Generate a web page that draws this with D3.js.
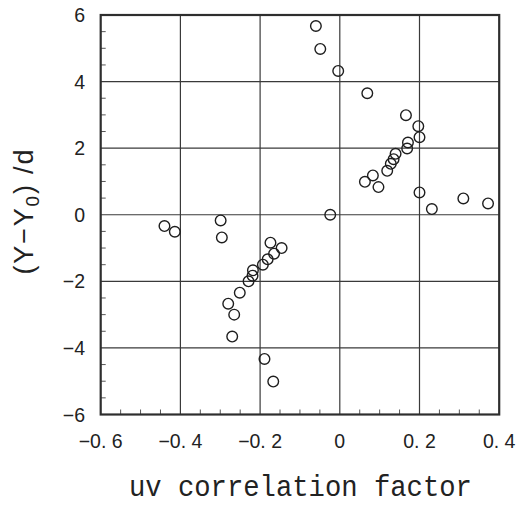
<!DOCTYPE html>
<html>
<head>
<meta charset="utf-8">
<script src="https://cdn.jsdelivr.net/npm/d3@7"></script>
<style>
  html, body { margin: 0; padding: 0; background: #fff; }
  svg { display: block; }
</style>
</head>
<body>
<div id="chart"></div>
<script>
// uv correlation factor versus normalised offset (Y - Y0)/d
const uvFactor = [
  -0.060, -0.049, -0.004, 0.069, 0.166, 0.197, 0.200, 0.171, 0.169, 0.140,
  0.135, 0.128, 0.119, 0.083, 0.063, 0.097, 0.200, 0.231, 0.310, 0.372,
  -0.024,
  -0.440, -0.414, -0.299, -0.296, -0.174, -0.146, -0.165, -0.181, -0.193,
  -0.218, -0.219, -0.229, -0.251, -0.280, -0.265, -0.270, -0.189, -0.167
];
const offset = [
  5.67, 4.98, 4.32, 3.65, 2.99, 2.66, 2.33, 2.17, 1.99, 1.83,
  1.67, 1.53, 1.32, 1.18, 0.99, 0.83, 0.67, 0.17, 0.49, 0.34,
  0.00,
  -0.34, -0.51, -0.17, -0.68, -0.84, -1.00, -1.17, -1.34, -1.50,
  -1.67, -1.83, -2.00, -2.34, -2.67, -3.00, -3.66, -4.33, -5.01
];

const xTicks = [-0.6, -0.4, -0.2, 0, 0.2, 0.4];
const xTickLabels = ["\u22120. 6", "\u22120. 4", "\u22120. 2", "0", "0. 2", "0. 4"];
const yTicks = [-6, -4, -2, 0, 2, 4, 6];
const yTickLabels = ["\u22126", "\u22124", "\u22122", "0", "2", "4", "6"];
const xMinor = [-0.55, -0.5, -0.45, -0.35, -0.3, -0.25, -0.15, -0.1, -0.05,
                0.05, 0.1, 0.15, 0.25, 0.3, 0.35];
const yMinor = [-5.5, -5, -4.5, -3.5, -3, -2.5, -1.5, -1, -0.5,
                0.5, 1, 1.5, 2.5, 3, 3.5, 4.5, 5, 5.5];

const W = 517, H = 506;
const plot = { left: 100.7, right: 499.2, top: 15, bottom: 414.5 };

const x = d3.scaleLinear().domain([-0.6, 0.4]).range([plot.left, plot.right]);
const y = d3.scaleLinear().domain([-6, 6]).range([plot.bottom, plot.top]);

const svg = d3.select("#chart").append("svg")
  .attr("width", W).attr("height", H);

const tickFont = "'Liberation Sans', Arial, sans-serif";

// grid lines
const grid = svg.append("g").attr("stroke", "#3a3a3a").attr("stroke-width", 1.2);
grid.selectAll(".gx").data(xTicks.slice(1, -1)).join("line")
  .attr("x1", d => x(d)).attr("x2", d => x(d))
  .attr("y1", plot.top).attr("y2", plot.bottom);
grid.selectAll(".gy").data(yTicks.slice(1, -1)).join("line")
  .attr("y1", d => y(d)).attr("y2", d => y(d))
  .attr("x1", plot.left).attr("x2", plot.right);

// minor ticks on the bottom and left edges, pointing inward
const minor = svg.append("g").attr("stroke", "#555").attr("stroke-width", 1);
minor.selectAll(".mx").data(xMinor).join("line")
  .attr("x1", d => x(d)).attr("x2", d => x(d))
  .attr("y1", plot.bottom).attr("y2", plot.bottom - 5);
minor.selectAll(".my").data(yMinor).join("line")
  .attr("y1", d => y(d)).attr("y2", d => y(d))
  .attr("x1", plot.left).attr("x2", plot.left + 5);

// frame
svg.append("rect")
  .attr("x", plot.left).attr("y", plot.top)
  .attr("width", plot.right - plot.left).attr("height", plot.bottom - plot.top)
  .attr("fill", "none").attr("stroke", "#2e2e2e").attr("stroke-width", 2.2);

// tick labels
svg.append("g").selectAll("text").data(xTicks).join("text")
  .attr("x", d => x(d)).attr("y", 448)
  .attr("text-anchor", "middle")
  .attr("font-family", tickFont).attr("font-size", 19.5)
  .attr("fill", "#222")
  .text((d, i) => xTickLabels[i]);

svg.append("g").selectAll("text").data(yTicks).join("text")
  .attr("x", 85).attr("y", d => y(d) + 7)
  .attr("text-anchor", "end")
  .attr("font-family", tickFont).attr("font-size", 19.5)
  .attr("fill", "#222")
  .text((d, i) => yTickLabels[i]);

// axis titles
svg.append("text")
  .attr("x", (plot.left + plot.right) / 2 + 0.5).attr("y", 496)
  .attr("text-anchor", "middle")
  .attr("font-family", "'Liberation Mono', 'DejaVu Sans Mono', monospace")
  .attr("font-size", 30)
  .attr("textLength", 343).attr("lengthAdjust", "spacingAndGlyphs")
  .attr("fill", "#222")
  .text("uv correlation factor");

const yt = svg.append("text")
  .attr("transform", "translate(33,212) rotate(-90)")
  .attr("text-anchor", "middle")
  .attr("font-family", tickFont)
  .attr("font-size", 27)
  .attr("textLength", 125).attr("lengthAdjust", "spacing")
  .attr("fill", "#222");
yt.append("tspan").text("(Y\u2212Y");
yt.append("tspan").attr("font-size", 19).attr("dy", 6).text("0");
yt.append("tspan").attr("dy", -6).text(") /d");

// data points
svg.append("g").selectAll("circle").data(uvFactor).join("circle")
  .attr("cx", d => x(d))
  .attr("cy", (d, i) => y(offset[i]))
  .attr("r", 5.3)
  .attr("fill", "none")
  .attr("stroke", "#1e1e1e")
  .attr("stroke-width", 1.4);
</script>
</body>
</html>
